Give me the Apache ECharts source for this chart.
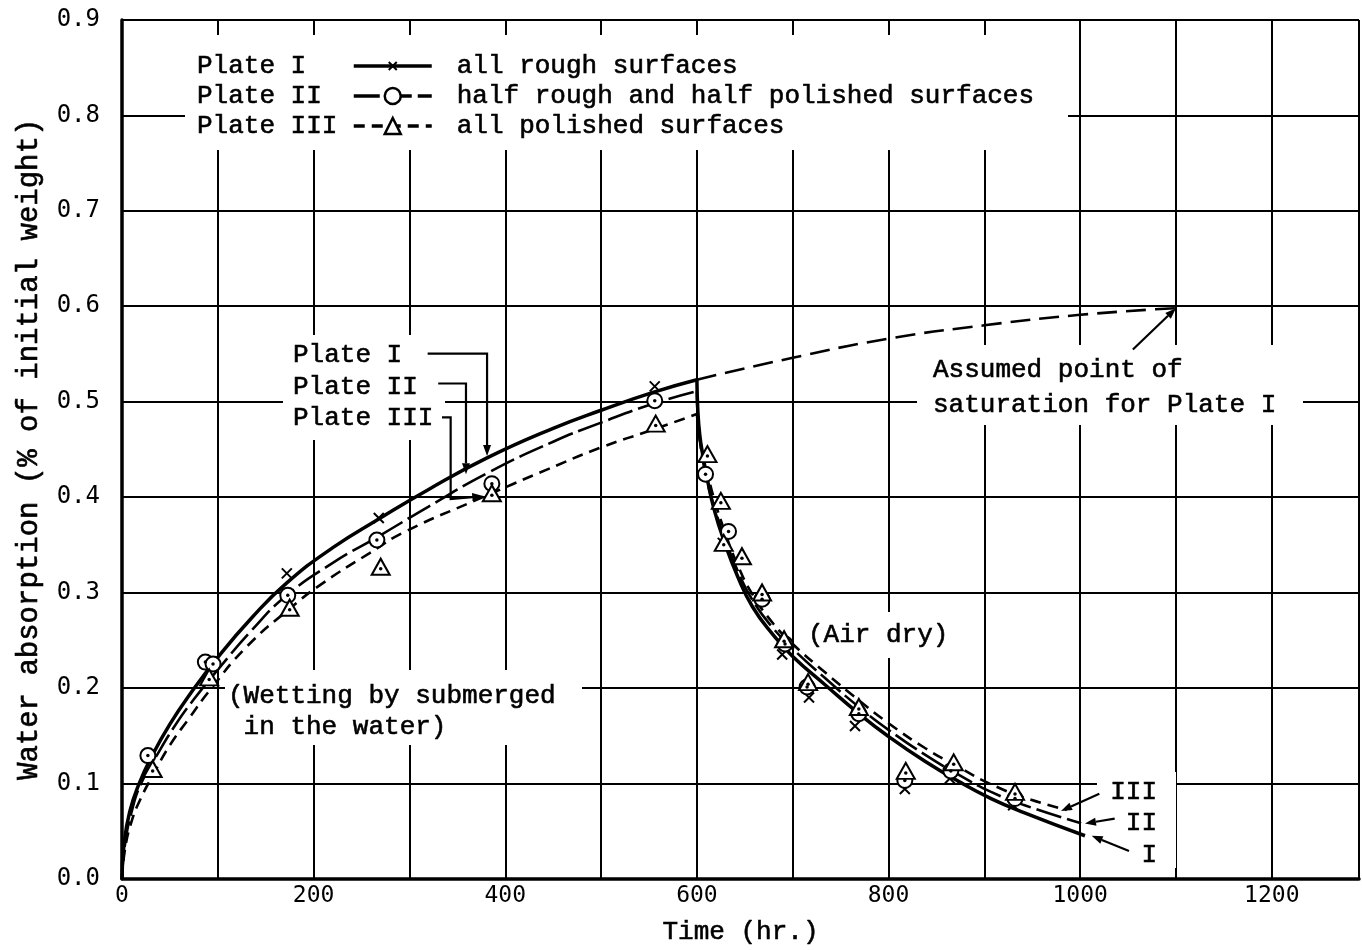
<!DOCTYPE html>
<html>
<head>
<meta charset="utf-8">
<script src="https://cdn.jsdelivr.net/npm/echarts@6/dist/echarts.min.js"></script>
<style>
  html, body { margin: 0; padding: 0; background: #fff; }
  #chart { width: 1362px; height: 950px; }
</style>
</head>
<body>
<div id="chart"></div>
<script>
// Water absorption of plates vs. time: wetting (submerged) up to 600 hr, then air drying.

const xTickLabels = [0, 200, 400, 600, 800, 1000, 1200];
const yTickLabels = ['0.0', '0.1', '0.2', '0.3', '0.4', '0.5', '0.6', '0.7', '0.8', '0.9'];

const plateNames = ['Plate I', 'Plate II', 'Plate III'];
const surfaceNames = ['all rough surfaces', 'half rough and half polished surfaces', 'all polished surfaces'];

// Fitted curves, wetting phase [hr, %]
const wetI = [[0,0],[2,0.035],[8,0.07],[18,0.1],[32,0.13],[50,0.162],[70,0.192],[100,0.232],[135,0.273],[172,0.31],[220,0.347],[268,0.377],[320,0.408],[381,0.441],[450,0.472],[500,0.491],[555,0.51],[600,0.523]];
const wetII = [[0,0],[3,0.035],[10,0.07],[20,0.1],[35,0.127],[55,0.16],[75,0.188],[100,0.219],[135,0.26],[172,0.297],[220,0.331],[268,0.359],[320,0.39],[381,0.425],[450,0.458],[500,0.478],[555,0.498],[600,0.511]];
const wetIII = [[0,0],[3,0.03],[10,0.06],[20,0.085],[32,0.108],[50,0.14],[70,0.168],[92,0.198],[130,0.243],[175,0.283],[207,0.308],[258,0.341],[296,0.364],[370,0.397],[444,0.429],[500,0.452],[555,0.471],[600,0.487]];

// Fitted curves, drying phase
const dryI = [[600,0.523],[601,0.49],[603,0.465],[606,0.445],[611,0.418],[618,0.387],[629,0.352],[642,0.318],[658,0.285],[680,0.255],[700,0.233],[734,0.203],[769,0.173],[800,0.149],[838,0.123],[873,0.102],[907,0.084],[942,0.069],[1005,0.045]];
const dryII = [[600,0.511],[601,0.48],[603,0.46],[606,0.44],[611,0.415],[618,0.39],[629,0.357],[642,0.324],[658,0.292],[680,0.262],[700,0.241],[734,0.21],[769,0.18],[800,0.156],[838,0.13],[873,0.109],[907,0.091],[942,0.077],[1001,0.058]];
const dryIII = [[600,0.487],[602,0.468],[605,0.45],[611,0.425],[618,0.398],[629,0.364],[642,0.33],[658,0.298],[680,0.267],[700,0.246],[734,0.216],[769,0.187],[800,0.163],[838,0.137],[873,0.117],[907,0.099],[942,0.085],[986,0.072]];

// Extrapolated wetting of Plate I towards saturation
const assumedI = [[600,0.523],[700,0.546],[800,0.566],[900,0.58],[1000,0.591],[1100,0.598]];

// Measured points
const pointsI = [[27,0.13],[88,0.228],[172,0.32],[268,0.378],[556,0.516],
  [609,0.424],[627,0.352],[668,0.293],[689,0.235],[717,0.19],[765,0.16],[817,0.094],[864,0.105],[930,0.077]];
const pointsII = [[27,0.129],[87,0.227],[95,0.225],[173,0.297],[266,0.355],[386,0.414],[556,0.501],
  [609,0.424],[633,0.364],[668,0.293],[692,0.246],[715,0.201],[769,0.173],[817,0.103],[865,0.113],[932,0.084]];
const pointsIII = [[32,0.115],[91,0.211],[175,0.284],[270,0.327],[386,0.404],[557,0.477],
  [611,0.445],[625,0.396],[628,0.352],[647,0.338],[668,0.30],[691,0.251],[716,0.206],[769,0.18],[818,0.113],[868,0.122],[932,0.091]];

const MONO = '"Liberation Mono", "DejaVu Sans Mono", monospace';
const TICK_FONT = '"DejaVu Sans Mono", monospace';
const CROSS = 'path://M0,0M20,20M5,5L15,15M15,5L5,15';

const styleI = { color: '#000', width: 3.5, type: 'solid' };
const styleII = { color: '#000', width: 2.6, type: [26, 6] };
const styleIII = { color: '#000', width: 2.6, type: [11, 7] };

function curve(name, data, lineStyle, symbol) {
  return {
    type: 'line', name, data, smooth: 0.5,
    symbol: symbol || 'none', showSymbol: false, lineStyle, z: 2,
    itemStyle: { color: '#000' }, silent: true
  };
}

function marks(name, data, symbol, size, fill) {
  return {
    type: 'scatter', name, data, symbol, symbolSize: size, z: 4, silent: true,
    itemStyle: { color: fill, borderColor: '#000', borderWidth: 2, opacity: 1 }
  };
}

function dots(name, data, offset) {
  return {
    type: 'scatter', name, data, symbol: 'circle', symbolSize: 3.5, z: 5, silent: true,
    symbolOffset: [0, offset], itemStyle: { color: '#000', opacity: 1 }
  };
}

const chart = echarts.init(document.getElementById('chart'), null, { renderer: 'canvas' });

chart.setOption({
  animation: false,
  backgroundColor: '#fff',
  grid: { left: 122, right: 0, top: 20, bottom: 70 },
  xAxis: {
    type: 'value', min: 0, max: 1291, interval: 100,
    name: 'Time (hr.)', nameLocation: 'middle', nameGap: 40,
    nameTextStyle: { fontFamily: MONO, fontSize: 26, color: '#000', textBorderColor: '#000', textBorderWidth: 0.6 },
    axisLine: { lineStyle: { color: '#000', width: 3.5 } },
    axisTick: { show: false },
    splitLine: { show: true, lineStyle: { color: '#000', width: 2 } },
    axisLabel: {
      margin: 6, color: '#000', fontFamily: TICK_FONT, fontSize: 23,
      formatter: v => (xTickLabels.indexOf(v) >= 0 ? String(v) : '')
    }
  },
  yAxis: {
    type: 'value', min: 0, max: 0.9, interval: 0.1,
    name: 'Water absorption (% of initial weight)', nameLocation: 'middle', nameGap: 78,
    nameTextStyle: { fontFamily: MONO, fontSize: 29, color: '#000', textBorderColor: '#000', textBorderWidth: 0.6 },
    axisLine: { show: true, lineStyle: { color: '#000', width: 3.5 } },
    axisTick: { show: false },
    splitLine: { show: true, lineStyle: { color: '#000', width: 2 } },
    axisLabel: {
      margin: 22, color: '#000', fontFamily: TICK_FONT, fontSize: 24,
      formatter: v => yTickLabels[Math.round(v * 10)] || ''
    }
  },
  legend: {
    orient: 'vertical', left: 347, top: 46, itemWidth: 78, itemHeight: 20, itemGap: 0,
    selectedMode: false, padding: 5,
    textStyle: { fontFamily: MONO, fontSize: 26, color: '#000', lineHeight: 30, padding: [0, 0, 0, 20],
      textBorderColor: '#000', textBorderWidth: 0.6 },
    formatter: name => surfaceNames[plateNames.indexOf(name)],
    data: [
      { name: 'Plate I', itemStyle: { color: 'none', borderColor: '#000', borderWidth: 2 }, lineStyle: { width: 3.5 } },
      { name: 'Plate II', itemStyle: { color: '#fff', borderColor: '#000', borderWidth: 2.5 }, lineStyle: { width: 3.5 } },
      { name: 'Plate III', itemStyle: { color: '#fff', borderColor: '#000', borderWidth: 2.5 }, lineStyle: { width: 3.5 } }
    ]
  },
  series: [
    curve('Plate I', wetI, styleI, CROSS),
    curve('Plate II', wetII, styleII, 'circle'),
    curve('Plate III', wetIII, styleIII, 'triangle'),
    curve('Plate I drying', dryI, styleI),
    curve('Plate II drying', dryII, styleII),
    curve('Plate III drying', dryIII, styleIII),
    curve('Plate I assumed', assumedI, { color: '#000', width: 2.6, type: [20, 9] }),
    marks('Plate I points', pointsI, CROSS, 20, 'none'),
    marks('Plate II points', pointsII, 'circle', 15, '#fff'),
    marks('Plate III points', pointsIII, 'triangle', [18, 16], '#fff'),
    dots('Plate II dots', pointsII, 0),
    dots('Plate III dots', pointsIII, 2)
  ]
});

// ---- annotations: text, white paper patches under the text, and pointer arrows ----
const toPx = p => chart.convertToPixel({ gridIndex: 0 }, p);

function text(str, x, y, align) {
  return {
    type: 'text', z: 3, silent: true,
    style: { text: str, x, y, font: '26px ' + MONO, fill: '#000', stroke: '#000', lineWidth: 0.6,
      align: align || 'left', verticalAlign: 'middle', lineHeight: 31 }
  };
}

function patch(x1, y1, x2, y2) {
  return { type: 'rect', z: 1, silent: true, shape: { x: x1, y: y1, width: x2 - x1, height: y2 - y1 }, style: { fill: '#fff' } };
}

// arrow through data-space points; head at the last one
function arrow(pts) {
  const p = pts.map(toPx);
  const a = p[p.length - 2], b = p[p.length - 1];
  const dx = b[0] - a[0], dy = b[1] - a[1];
  const len = Math.hypot(dx, dy) || 1;
  const ux = dx / len, uy = dy / len;
  const hl = 11, hw = 4;
  const base = [b[0] - ux * hl, b[1] - uy * hl];
  return [
    { type: 'polyline', z: 3, silent: true, shape: { points: p.slice(0, -1).concat([base]) }, style: { stroke: '#000', lineWidth: 2.2, fill: null } },
    { type: 'polygon', z: 3, silent: true,
      shape: { points: [b, [base[0] - uy * hw, base[1] + ux * hw], [base[0] + uy * hw, base[1] - ux * hw]] },
      style: { fill: '#000' } }
  ];
}

const graphics = [
  patch(185, 35, 1068, 150),
  patch(283, 335, 445, 440),
  patch(917, 345, 1303, 425),
  patch(225, 670, 582, 745),
  patch(800, 612, 955, 658),
  patch(1097, 772, 1176, 868),

  text(plateNames[0], 197, 66), text(plateNames[1], 197, 96), text(plateNames[2], 197, 126),
  text(plateNames[0], 293, 355), text(plateNames[1], 293, 387), text(plateNames[2], 293, 418),
  text('Assumed point of', 933, 370),
  text('saturation for Plate I', 933, 405),
  text('(Wetting by submerged\n in the water)', 228, 712),
  text('(Air dry)', 808, 635),
  text('III', 1157, 792, 'right'), text('II', 1157, 823, 'right'), text('I', 1157, 855, 'right')
].concat(
  arrow([[319, 0.5504], [381, 0.5504], [381, 0.443]]),
  arrow([[330, 0.519], [359, 0.519], [359, 0.424]]),
  arrow([[334, 0.4835], [343, 0.4835], [343, 0.398], [377, 0.401]]),
  arrow([[1055, 0.5546], [1100, 0.598]]),
  arrow([[1020, 0.089], [980, 0.071]]),
  arrow([[1036, 0.063], [1005, 0.0578]]),
  arrow([[1051, 0.029], [1012, 0.045]])
);

chart.setOption({ graphic: graphics });
</script>
</body>
</html>
